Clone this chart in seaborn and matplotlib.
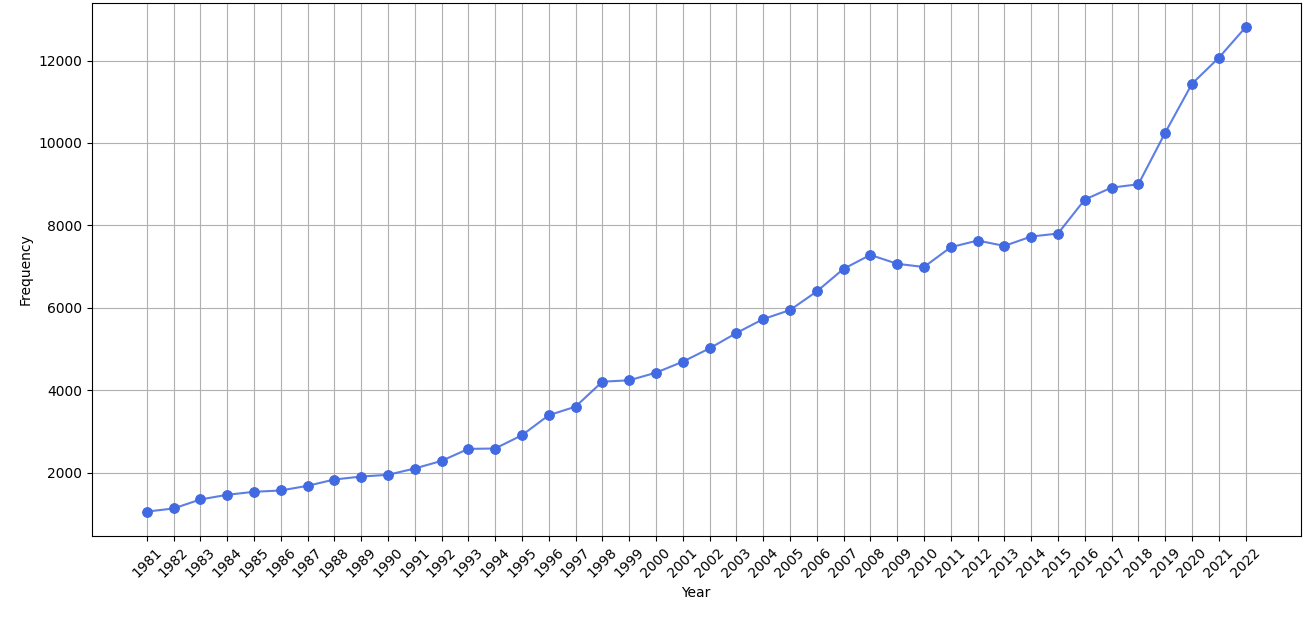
import pandas as pd
import matplotlib
matplotlib.use("Agg")
import matplotlib.pyplot as plt
import seaborn as sns

years = list(range(1981, 2023))
frequency = [
    1060, 1135, 1354, 1467, 1540, 1572, 1685, 1838, 1910, 1952,
    2105, 2290, 2581, 2590, 2912, 3397, 3605, 4211, 4244, 4429,
    4695, 5019, 5390, 5729, 5947, 6399, 6947, 7286, 7070, 6992,
    7472, 7634, 7504, 7731, 7804, 8627, 8918, 8998, 10249, 11436,
    12066, 12806,
]

df = pd.DataFrame({"Year": years, "Frequency": frequency})

fig, ax = plt.subplots(figsize=(13.11, 6.18), dpi=100)
# line slightly lighter than the solid markers
sns.lineplot(data=df, x="Year", y="Frequency", color="royalblue",
             alpha=0.85, linewidth=1.5, ax=ax)
sns.lineplot(data=df, x="Year", y="Frequency", color="royalblue",
             linestyle="", marker="o", markersize=7,
             markeredgecolor="royalblue", ax=ax)
ax.set_xticks(years)
ax.set_xticklabels([str(y) for y in years], rotation=45)
ax.grid(True)
ax.set_xlabel("Year")
ax.set_ylabel("Frequency")

plt.subplots_adjust(left=0.070, right=0.992, top=0.995, bottom=0.133)
fig.savefig("out.png", dpi=100)
